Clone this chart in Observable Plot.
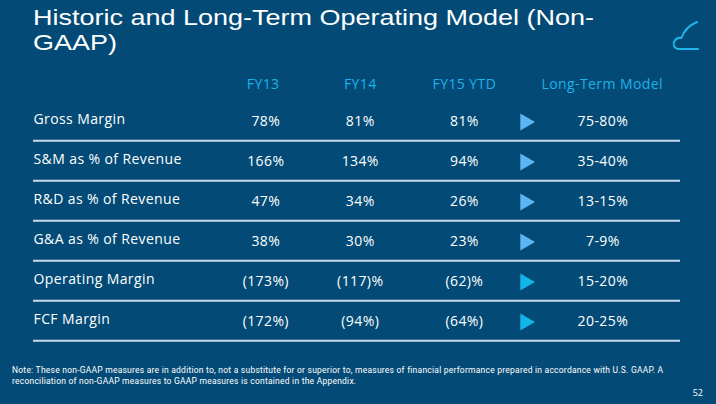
<!DOCTYPE html>
<html>
<head>
<meta charset="utf-8">
<script src="https://cdn.jsdelivr.net/npm/d3@7"></script>
<script src="https://cdn.jsdelivr.net/npm/@observablehq/plot@0.6"></script>
<style>
  html, body { margin: 0; padding: 0; background: #034b76; width: 716px; height: 404px; overflow: hidden; }
  #page { position: relative; width: 716px; height: 404px; font-family: "Open Sans", sans-serif; color: #ffffff; }
  #title { position: absolute; left: 33px; top: 6px; font-family: "Liberation Sans", Arial, sans-serif; font-size: 22px; line-height: 24.7px; font-weight: 400; white-space: nowrap; margin: 0; }
  #title span { display: inline-block; transform-origin: 0 50%; }
  #chart { position: absolute; left: 0; top: 0; }
  #note { position: absolute; left: 12px; top: 365px; font-family: Roboto, sans-serif; font-size: 8.5px; line-height: 11px; white-space: nowrap; }
  #note span { display: inline-block; }
  #pagenum { position: absolute; right: 13px; top: 387px; font-size: 9px; line-height: 12px; }
  #logo { position: absolute; left: 0; top: 0; pointer-events: none; }
</style>
</head>
<body>
<div id="page">
  <div id="chart"></div>
  <h1 id="title"><span id="t1">Historic and Long-Term Operating Model (Non-</span><br><span id="t2">GAAP)</span></h1>
  <svg id="logo" width="716" height="404"><path d="M698,49 H679 C674,49 672.5,44 674.5,41 C676,38.5 679,37.5 681.5,38 C684,30 690,25 697,22" fill="none" stroke="#1fb6ea" stroke-width="2" stroke-linecap="round" stroke-linejoin="round"/></svg>
  <div id="note"><span id="n1">Note: These non-GAAP measures are in addition to, not a substitute for or superior to, measures of financial performance prepared in accordance with U.S. GAAP. A</span><br><span id="n2">reconciliation of non-GAAP measures to GAAP measures is contained in the Appendix.</span></div>
  <div id="pagenum">52</div>
</div>
<script>
// ---- Data ----
const columns = ["FY13", "FY14", "FY15 YTD", "Long-Term Model"];
const rows = ["Gross Margin", "S&M as % of Revenue", "R&D as % of Revenue", "G&A as % of Revenue", "Operating Margin", "FCF Margin"];
const fy13 = ["78%", "166%", "47%", "38%", "(173%)", "(172%)"];
const fy14 = ["81%", "134%", "34%", "30%", "(117)%", "(94%)"];
const fy15ytd = ["81%", "94%", "26%", "23%", "(62)%", "(64%)"];
const longTerm = ["75-80%", "35-40%", "13-15%", "7-9%", "15-20%", "20-25%"];

// ---- Layout (column centres in % of table width) ----
const colPos = {"FY13": 35.9, "FY14": 50.5, "FY15 YTD": 66.6, "arrow": 76.0, "Long-Term Model": 88.0};
const headerPos = {"FY13": 35.5, "FY14": 50.5, "FY15 YTD": 66.6, "Long-Term Model": 87.9};
const HEADER = "__header";
const yTop = 58.75, yBottom = 341.7;
const bw = (yBottom - yTop) / (rows.length + 1);

const seriesByCol = {"FY13": fy13, "FY14": fy14, "FY15 YTD": fy15ytd, "Long-Term Model": longTerm};
const cells = [];
for (const c of columns) rows.forEach((r, i) => cells.push({row: r, col: c, text: seriesByCol[c][i]}));

const chart = Plot.plot({
  width: 716,
  height: 404,
  margin: 0,
  x: {type: "linear", domain: [0, 100], range: [33, 680], axis: null},
  y: {type: "band", domain: [HEADER, ...rows], range: [yTop, yBottom], padding: 0, axis: null},
  style: {background: "transparent", fontFamily: "'Open Sans', sans-serif", letterSpacing: "0.4px"},
  marks: [
    Plot.ruleY(rows, {y: d => d, dy: bw / 2, x1: 0, x2: 100, stroke: "#c9dbe8", strokeWidth: 2}),
    Plot.text(columns, {x: d => headerPos[d], y: () => HEADER, text: d => d, fill: "#1fb1e9", fontSize: 14, dy: 4.5}),
    Plot.text(rows, {x: 0, y: d => d, text: d => d, textAnchor: "start", fill: "#ffffff", fontSize: 14, dy: -0.5}),
    Plot.text(cells, {x: d => colPos[d.col], y: "row", text: "text", fill: "#ffffff", fontSize: 14, dy: 1}),
    Plot.dot(rows.slice(0, 4), {x: colPos.arrow, y: d => d, symbol: "triangle", rotate: 90, r: 6.3, fill: "#5bb5f5", dy: 1.5}),
    Plot.dot(rows.slice(4), {x: colPos.arrow, y: d => d, symbol: "triangle", rotate: 90, r: 6.3, fill: "#12b5ea", dy: 1.5})
  ]
});
document.getElementById("chart").appendChild(chart);

function fitSpacing(id, target) {
  const el = document.getElementById(id);
  el.style.letterSpacing = "0px";
  const w = el.getBoundingClientRect().width;
  el.style.letterSpacing = ((target - w) / el.textContent.length) + "px";
}
function fitScale(id, target, other) {
  const el = document.getElementById(id);
  el.style.transform = "none";
  const w = el.getBoundingClientRect().width;
  const s = target / w;
  el.style.transform = "scaleX(" + s + ")";
  document.getElementById(other).style.transform = "scaleX(" + s + ")";
}
function fitAll() {
  fitScale("t1", 561, "t2");
  fitSpacing("n1", 651);
  document.getElementById("n2").style.letterSpacing = document.getElementById("n1").style.letterSpacing;
}
fitAll();
if (document.fonts && document.fonts.ready) document.fonts.ready.then(fitAll);
</script>
</body>
</html>
